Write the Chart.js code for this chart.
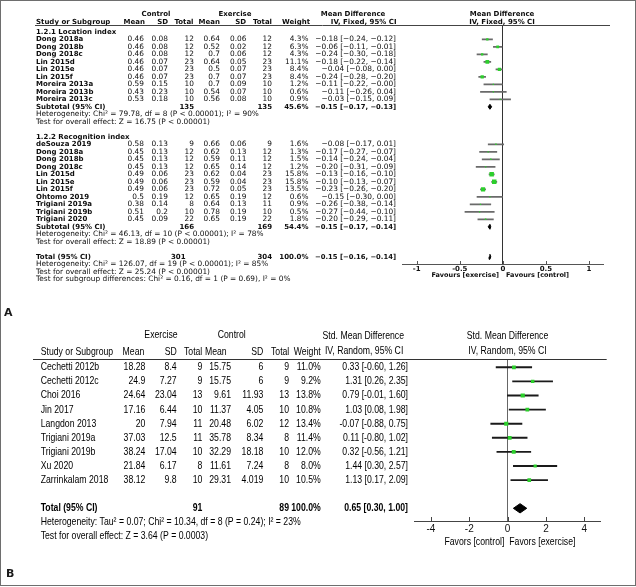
<!DOCTYPE html>
<html>
<head>
<meta charset="utf-8">
<script src="https://cdn.jsdelivr.net/npm/chart.js@4.4.0/dist/chart.umd.min.js"></script>
<style>
html, body { margin: 0; padding: 0; background: #fff; }
#wrap { position: relative; width: 636px; height: 587px; }
canvas { position: absolute; left: 0; top: 0; }
#frame { position: absolute; left: 0; top: 0; width: 634px; height: 584px; border: 1px solid #6e6e6e; }
.lbl { position: absolute; font: bold 11px "DejaVu Sans"; color: #1a1a1a; }
</style>
</head>
<body>
<div id="wrap">
  <div id="frame"></div>
  <canvas id="chartA" width="636" height="587"></canvas>
  <canvas id="chartB" width="636" height="587"></canvas>
  <div class="lbl" style="left:4px;top:306px">A</div>
  <div class="lbl" style="left:6px;top:567px">B</div>
</div>
<script>
// ---------- Panel A: mean difference, fixed effect ----------
const groupLabelsA = ['1.2.1 Location index', '1.2.2 Recognition index'];

const locStudies = ['Dong 2018a', 'Dong 2018b', 'Dong 2018c', 'Lin 2015d', 'Lin 2015e', 'Lin 2015f', 'Moreira 2013a', 'Moreira 2013b', 'Moreira 2013c'];
const locCtrlMean = [0.46, 0.46, 0.46, 0.46, 0.46, 0.46, 0.59, 0.43, 0.53];
const locCtrlSd = [0.08, 0.08, 0.08, 0.07, 0.07, 0.07, 0.15, 0.23, 0.18];
const locCtrlN = [12, 12, 12, 23, 23, 23, 10, 10, 10];
const locExMean = [0.64, 0.52, 0.7, 0.64, 0.5, 0.7, 0.7, 0.54, 0.56];
const locExSd = [0.06, 0.02, 0.06, 0.05, 0.07, 0.07, 0.09, 0.07, 0.08];
const locExN = [12, 12, 12, 23, 23, 23, 10, 10, 10];
const locWeight = [4.3, 6.3, 4.3, 11.1, 8.4, 8.4, 1.2, 0.6, 0.9];
const locMd = [-0.18, -0.06, -0.24, -0.18, -0.04, -0.24, -0.11, -0.11, -0.03];
const locLo = [-0.24, -0.11, -0.30, -0.22, -0.08, -0.28, -0.22, -0.26, -0.15];
const locHi = [-0.12, -0.01, -0.18, -0.14, 0.00, -0.20, -0.00, 0.04, 0.09];

const recStudies = ['deSouza 2019', 'Dong 2018a', 'Dong 2018b', 'Dong 2018c', 'Lin 2015d', 'Lin 2015e', 'Lin 2015f', 'Ohtomo 2019', 'Trigiani 2019a', 'Trigiani 2019b', 'Trigiani 2020'];
const recCtrlMean = [0.58, 0.45, 0.45, 0.45, 0.49, 0.49, 0.49, 0.5, 0.38, 0.51, 0.45];
const recCtrlSd = [0.13, 0.13, 0.13, 0.13, 0.06, 0.06, 0.06, 0.19, 0.14, 0.2, 0.09];
const recCtrlN = [9, 12, 12, 12, 23, 23, 23, 12, 8, 10, 22];
const recExMean = [0.66, 0.62, 0.59, 0.65, 0.62, 0.59, 0.72, 0.65, 0.64, 0.78, 0.65];
const recExSd = [0.06, 0.13, 0.11, 0.14, 0.04, 0.04, 0.05, 0.19, 0.13, 0.19, 0.19];
const recExN = [9, 12, 12, 12, 23, 23, 23, 12, 11, 10, 22];
const recWeight = [1.6, 1.3, 1.5, 1.2, 15.8, 15.8, 13.5, 0.6, 0.9, 0.5, 1.8];
const recMd = [-0.08, -0.17, -0.14, -0.20, -0.13, -0.10, -0.23, -0.15, -0.26, -0.27, -0.20];
const recLo = [-0.17, -0.27, -0.24, -0.31, -0.16, -0.13, -0.26, -0.30, -0.38, -0.44, -0.29];
const recHi = [0.01, -0.07, -0.04, -0.09, -0.10, -0.07, -0.20, 0.00, -0.14, -0.10, -0.11];

// subtotal location, subtotal recognition, overall total
const sumLabelsA = ['Subtotal (95% CI)', 'Subtotal (95% CI)', 'Total (95% CI)'];
const sumCtrlN = [135, 166, 301];
const sumExN = [135, 169, 304];
const sumWeight = [45.6, 54.4, 100.0];
const sumMd = [-0.15, -0.15, -0.15];
const sumLo = [-0.17, -0.17, -0.16];
const sumHi = [-0.13, -0.14, -0.14];
const hetA = [
  'Heterogeneity: Chi\u00b2 = 79.78, df = 8 (P < 0.00001); I\u00b2 = 90%',
  'Heterogeneity: Chi\u00b2 = 46.13, df = 10 (P < 0.00001); I\u00b2 = 78%',
  'Heterogeneity: Chi\u00b2 = 126.07, df = 19 (P < 0.00001); I\u00b2 = 85%'
];
const effectA = [
  'Test for overall effect: Z = 16.75 (P < 0.00001)',
  'Test for overall effect: Z = 18.89 (P < 0.00001)',
  'Test for overall effect: Z = 25.24 (P < 0.00001)'
];
const subgroupTestA = 'Test for subgroup differences: Chi\u00b2 = 0.16, df = 1 (P = 0.69), I\u00b2 = 0%';
const tickValsA = [-1, -0.5, 0, 0.5, 1];
const tickLabelsA = ['-1', '-0.5', '0', '0.5', '1'];

// ---------- Panel B: std. mean difference, random effects ----------
const studiesB = ['Cechetti 2012b', 'Cechetti 2012c', 'Choi 2016', 'Jin 2017', 'Langdon 2013', 'Trigiani 2019a', 'Trigiani 2019b', 'Xu 2020', 'Zarrinkalam 2018'];
const exMeanB = [18.28, 24.9, 24.64, 17.16, 20, 37.03, 38.24, 21.84, 38.12];
const exSdB = [8.4, 7.27, 23.04, 6.44, 7.94, 12.5, 17.04, 6.17, 9.8];
const exNB = [9, 9, 13, 10, 11, 11, 10, 8, 10];
const ctMeanB = [15.75, 15.75, 9.61, 11.37, 20.48, 35.78, 32.29, 11.61, 29.31];
const ctSdB = [6, 6, 11.93, 4.05, 6.02, 8.34, 18.18, 7.24, 4.019];
const ctNB = [9, 9, 13, 10, 12, 8, 10, 8, 10];
const weightB = [11.0, 9.2, 13.8, 10.8, 13.4, 11.4, 12.0, 8.0, 10.5];
const smdB = [0.33, 1.31, 0.79, 1.03, -0.07, 0.11, 0.32, 1.44, 1.13];
const loB = [-0.60, 0.26, -0.01, 0.08, -0.88, -0.80, -0.56, 0.30, 0.17];
const hiB = [1.26, 2.35, 1.60, 1.98, 0.75, 1.02, 1.21, 2.57, 2.09];
const totalB = { exN: 91, ctN: 89, weight: 100.0, smd: 0.65, lo: 0.30, hi: 1.00 };
const hetB = 'Heterogeneity: Tau\u00b2 = 0.07; Chi\u00b2 = 10.34, df = 8 (P = 0.24); I\u00b2 = 23%';
const effectB = 'Test for overall effect: Z = 3.64 (P = 0.0003)';
const tickValsB = [-4, -2, 0, 2, 4];
const tickLabelsB = ['-4', '-2', '0', '2', '4'];

// ---------- helpers ----------
const GREEN = '#2ccf2c';
const A_BOLD = 'bold 7px "DejaVu Sans"';
const A_REG = '7.4px "DejaVu Sans"';
const B_REG = '10.6px "Liberation Sans"';
const B_BOLD = 'bold 10.6px "Liberation Sans"';
const SQ = 0.82; // horizontal squeeze for the condensed panel B face

function put(ctx, s, x, y, align, font, sx) {
  ctx.save();
  ctx.font = font;
  ctx.textAlign = align;
  ctx.translate(x, y);
  ctx.scale(sx || 1, 1);
  ctx.fillText(s, 0, 0);
  ctx.restore();
}
const fmtA = v => (v < 0 || Object.is(v, -0) ? '\u2212' : '') + Math.abs(v).toFixed(2);
const ciA = (m, l, h) => `${fmtA(m)} [${fmtA(l)}, ${fmtA(h)}]`;
const ciB = (m, l, h) => `${m.toFixed(2)} [${l.toFixed(2)}, ${h.toFixed(2)}]`;
const boxRadius = w => Math.max(0.9, 0.8 * Math.sqrt(w));

function diamond(mid, lo, hi, k, h) {
  return {
    type: 'line', order: 0,
    data: [{ x: lo, y: k }, { x: mid, y: k - h }, { x: hi, y: k }, { x: mid, y: k + h }, { x: lo, y: k }],
    borderColor: '#000', backgroundColor: '#000', borderWidth: 1, pointRadius: 0, fill: 'shape', tension: 0
  };
}

function upTicks(chart, len, color) {
  const xs = chart.scales.x, ctx = chart.ctx;
  ctx.strokeStyle = color; ctx.lineWidth = 1;
  xs.ticks.forEach(t => {
    const px = Math.round(xs.getPixelForValue(t.value)) + 0.5;
    ctx.beginPath(); ctx.moveTo(px, xs.top - len); ctx.lineTo(px, xs.top); ctx.stroke();
  });
}

// ---------- rows of panel A ----------
const rowLoc = locStudies.map((_, i) => 1 + i);
const rowRec = recStudies.map((_, i) => 15 + i);
const rowSumA = [10, 26, 30];

const ciDataA = [], ptDataA = [], radA = [];
[[rowLoc, locMd, locLo, locHi, locWeight], [rowRec, recMd, recLo, recHi, recWeight]].forEach(([rows, md, lo, hi, w]) => {
  rows.forEach((k, i) => {
    ciDataA.push({ x: [lo[i], hi[i]], y: k });
    ptDataA.push({ x: md[i], y: k });
    radA.push(boxRadius(w[i]));
  });
});

const tableA = {
  id: 'tableA',
  afterDraw(chart) {
    const ctx = chart.ctx, ys = chart.scales.y, xs = chart.scales.x;
    const Y = k => ys.getPixelForValue(k);
    ctx.save();
    ctx.fillStyle = '#0d0d0d';
    ctx.textBaseline = 'middle';
    // header
    put(ctx, 'Control', 156, 14, 'center', A_BOLD);
    put(ctx, 'Exercise', 235, 14, 'center', A_BOLD);
    put(ctx, 'Mean Difference', 353, 14, 'center', A_BOLD);
    put(ctx, 'Mean Difference', 502, 14, 'center', A_BOLD);
    put(ctx, 'Study or Subgroup', 36, 22, 'left', A_BOLD);
    put(ctx, 'Mean', 145, 22, 'right', A_BOLD);
    put(ctx, 'SD', 168, 22, 'right', A_BOLD);
    put(ctx, 'Total', 193.5, 22, 'right', A_BOLD);
    put(ctx, 'Mean', 220, 22, 'right', A_BOLD);
    put(ctx, 'SD', 246, 22, 'right', A_BOLD);
    put(ctx, 'Total', 272, 22, 'right', A_BOLD);
    put(ctx, 'Weight', 310, 22, 'right', A_BOLD);
    put(ctx, 'IV, Fixed, 95% CI', 396.5, 22, 'right', A_BOLD);
    put(ctx, 'IV, Fixed, 95% CI', 502, 22, 'center', A_BOLD);
    ctx.strokeStyle = '#444'; ctx.lineWidth = 1;
    ctx.beginPath(); ctx.moveTo(35, 25.5); ctx.lineTo(610, 25.5); ctx.stroke();

    const groups = [
      [groupLabelsA[0], 0, rowLoc, locStudies, locCtrlMean, locCtrlSd, locCtrlN, locExMean, locExSd, locExN, locWeight, locMd, locLo, locHi],
      [groupLabelsA[1], 14, rowRec, recStudies, recCtrlMean, recCtrlSd, recCtrlN, recExMean, recExSd, recExN, recWeight, recMd, recLo, recHi]
    ];
    groups.forEach(([label, kl, rows, names, cm, cs, cn, em, es, en, w, md, lo, hi]) => {
      put(ctx, label, 36, Y(kl), 'left', A_BOLD);
      rows.forEach((k, i) => {
        const y = Y(k);
        put(ctx, names[i], 36, y, 'left', A_BOLD);
        put(ctx, String(cm[i]), 144, y, 'right', A_REG);
        put(ctx, String(cs[i]), 168, y, 'right', A_REG);
        put(ctx, String(cn[i]), 194, y, 'right', A_REG);
        put(ctx, String(em[i]), 220, y, 'right', A_REG);
        put(ctx, String(es[i]), 246.5, y, 'right', A_REG);
        put(ctx, String(en[i]), 272, y, 'right', A_REG);
        put(ctx, w[i].toFixed(1) + '%', 308.5, y, 'right', A_REG);
        put(ctx, ciA(md[i], lo[i], hi[i]), 396, y, 'right', A_REG);
      });
    });
    rowSumA.forEach((k, j) => {
      const y = Y(k);
      put(ctx, sumLabelsA[j], 36, y, 'left', A_BOLD);
      put(ctx, String(sumCtrlN[j]), j === 2 ? 185.5 : 194, y, 'right', A_BOLD);
      put(ctx, String(sumExN[j]), 272, y, 'right', A_BOLD);
      put(ctx, sumWeight[j].toFixed(1) + '%', 308.5, y, 'right', A_BOLD);
      put(ctx, ciA(sumMd[j], sumLo[j], sumHi[j]), 396, y, 'right', 'bold 6.8px "DejaVu Sans"');
      put(ctx, hetA[j], 36, Y(k + 1), 'left', A_REG);
      put(ctx, effectA[j], 36, Y(k + 2), 'left', A_REG);
    });
    put(ctx, subgroupTestA, 36, Y(33), 'left', A_REG);

    const z = xs.getPixelForValue(0);
    put(ctx, 'Favours [exercise]', z - 3.8, 275, 'right', 'bold 6.5px "DejaVu Sans"');
    put(ctx, 'Favours [control]', z + 3.2, 275, 'left', 'bold 6.5px "DejaVu Sans"');
    upTicks(chart, 3, '#555');
    ctx.restore();
  }
};

new Chart(document.getElementById('chartA'), {
  type: 'scatter',
  data: {
    datasets: [
      { type: 'bar', indexAxis: 'y', order: 1, data: ciDataA, backgroundColor: '#6a6a6a', barThickness: 1, grouped: false, borderWidth: 0 },
      { type: 'scatter', order: 0, data: ptDataA, pointStyle: 'rect', pointRadius: radA, backgroundColor: GREEN, borderWidth: 0 },
      ...rowSumA.map((k, j) => diamond(sumMd[j], sumLo[j], sumHi[j], k, 0.33))
    ]
  },
  options: {
    responsive: false, animation: false, events: [],
    layout: { autoPadding: false, padding: { left: 402.5, right: 32.8, top: 25.3, bottom: 303 } },
    plugins: { legend: { display: false }, tooltip: { enabled: false } },
    scales: {
      x: {
        type: 'linear', min: -1.165, max: 1.165, offset: false,
        afterBuildTicks: s => { s.ticks = tickValsA.map(v => ({ value: v })); },
        afterFit: s => { s.height = 20; },
        ticks: { callback: (v, i) => tickLabelsA[i], font: { family: 'DejaVu Sans', size: 7, weight: 'bold' }, color: '#111', padding: 1, maxRotation: 0, autoSkip: false },
        grid: { drawTicks: false, offset: false, lineWidth: 1, color: c => (c.tick && c.tick.value === 0 ? '#333' : 'rgba(0,0,0,0)') },
        border: { display: true, color: '#555', width: 1 }
      },
      y: { type: 'linear', reverse: true, min: -0.867, max: 30.96, display: false, offset: false, grid: { display: false } }
    }
  },
  plugins: [tableA]
});

// ---------- panel B ----------
const rowB = studiesB.map((_, i) => i);
const rowTotalB = 10;
const ciDataB = rowB.map((k, i) => ({ x: [loB[i], hiB[i]], y: k }));
const ptDataB = rowB.map((k, i) => ({ x: smdB[i], y: k }));
const radB = weightB.map(boxRadius);

const tableB = {
  id: 'tableB',
  afterDraw(chart) {
    const ctx = chart.ctx, ys = chart.scales.y, xs = chart.scales.x;
    const Y = k => ys.getPixelForValue(k);
    const P = (s, x, y, al, f) => put(ctx, s, x, y, al, f || B_REG, SQ);
    ctx.save();
    ctx.fillStyle = '#000';
    ctx.textBaseline = 'middle';
    P('Exercise', 161, 335, 'center');
    P('Control', 231.7, 335, 'center');
    P('Std. Mean Difference', 363.3, 336, 'center');
    P('Std. Mean Difference', 507.5, 336, 'center');
    P('Study or Subgroup', 40.7, 352, 'left');
    P('Mean', 144.3, 352, 'right');
    P('SD', 176.7, 352, 'right');
    P('Total', 202.3, 352, 'right');
    P('Mean', 226.7, 352, 'right');
    P('SD', 263.3, 352, 'right');
    P('Total', 289.3, 352, 'right');
    P('Weight', 320.7, 352, 'right');
    P('IV, Random, 95% CI', 403.3, 351, 'right');
    P('IV, Random, 95% CI', 507.5, 351, 'center');
    ctx.strokeStyle = '#333'; ctx.lineWidth = 1;
    ctx.beginPath(); ctx.moveTo(33, 359.5); ctx.lineTo(606.7, 359.5); ctx.stroke();

    rowB.forEach((k, i) => {
      const y = Y(k);
      P(studiesB[i], 40.7, y, 'left');
      P(String(exMeanB[i]), 145.3, y, 'right');
      P(String(exSdB[i]), 176.7, y, 'right');
      P(String(exNB[i]), 202.3, y, 'right');
      P(String(ctMeanB[i]), 231, y, 'right');
      P(String(ctSdB[i]), 263.3, y, 'right');
      P(String(ctNB[i]), 289, y, 'right');
      P(weightB[i].toFixed(1) + '%', 320.7, y, 'right');
      P(ciB(smdB[i], loB[i], hiB[i]), 408, y, 'right');
    });
    const yt = Y(rowTotalB);
    P('Total (95% CI)', 40.7, yt, 'left', B_BOLD);
    P(String(totalB.exN), 202.3, yt, 'right', B_BOLD);
    P(String(totalB.ctN), 289, yt, 'right', B_BOLD);
    P(totalB.weight.toFixed(1) + '%', 320.7, yt, 'right', B_BOLD);
    P(ciB(totalB.smd, totalB.lo, totalB.hi), 408, yt, 'right', B_BOLD);
    P(hetB, 40.7, Y(rowTotalB + 1), 'left');
    P(effectB, 40.7, Y(rowTotalB + 2), 'left');

    const z = xs.getPixelForValue(0);
    P('Favors [control]', z - 3.3, 542.3, 'right');
    P('Favors [exercise]', z + 1.7, 542.3, 'left');
    upTicks(chart, 4, '#444');
    ctx.restore();
  }
};

new Chart(document.getElementById('chartB'), {
  type: 'scatter',
  data: {
    datasets: [
      { type: 'bar', indexAxis: 'y', order: 1, data: ciDataB, backgroundColor: '#1a1a1a', barThickness: 1.2, grouped: false, borderWidth: 0 },
      { type: 'scatter', order: 0, data: ptDataB, pointStyle: 'rect', pointRadius: radB, backgroundColor: GREEN, borderWidth: 0 },
      diamond(totalB.smd, totalB.lo, totalB.hi, rowTotalB, 0.33)
    ]
  },
  options: {
    responsive: false, animation: false, events: [],
    layout: { autoPadding: false, padding: { left: 414.7, right: 35.5, top: 359.3, bottom: 46 } },
    plugins: { legend: { display: false }, tooltip: { enabled: false } },
    scales: {
      x: {
        type: 'linear', min: -4.85, max: 4.85, offset: false,
        afterBuildTicks: s => { s.ticks = tickValsB.map(v => ({ value: v })); },
        afterFit: s => { s.height = 20; },
        ticks: { callback: (v, i) => tickLabelsB[i], font: { family: 'Liberation Sans', size: 10 }, color: '#111', padding: 2, maxRotation: 0, autoSkip: false },
        grid: { drawTicks: false, offset: false, lineWidth: 1, color: c => (c.tick && c.tick.value === 0 ? '#666' : 'rgba(0,0,0,0)') },
        border: { display: true, color: '#444', width: 1 }
      },
      y: { type: 'linear', reverse: true, min: -0.567, max: 10.9, display: false, offset: false, grid: { display: false } }
    }
  },
  plugins: [tableB]
});
</script>
</body>
</html>
